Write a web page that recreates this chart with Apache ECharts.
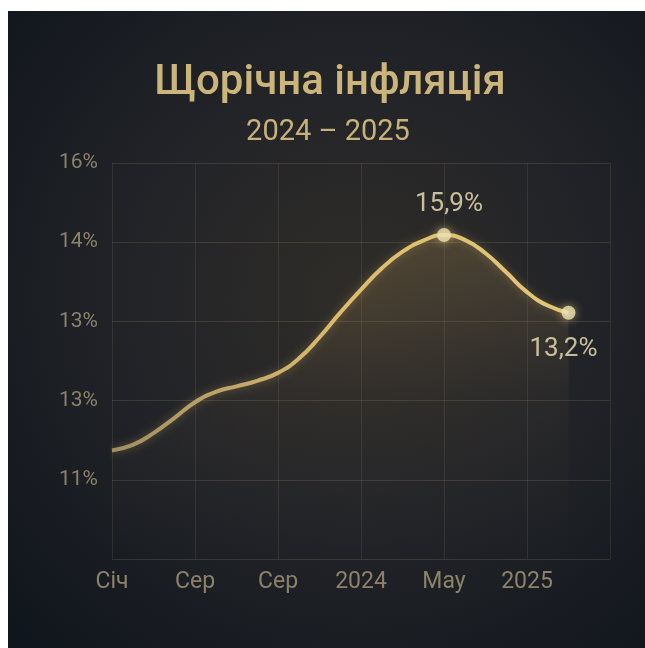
<!DOCTYPE html>
<html>
<head>
<meta charset="utf-8">
<script src="https://cdn.jsdelivr.net/npm/echarts@6/dist/echarts.min.js"></script>
<style>
  html, body { margin: 0; padding: 0; background: #ffffff; }
  #chart { position: absolute; left: 8px; top: 11px; width: 637px; height: 637px; }
</style>
</head>
<body>
<div id="chart"></div>
<script>
// Tick labels exactly as printed on the picture
const xTickLabels = ['Січ', 'Сер', 'Сер', '2024', 'May', '2025', ''];
const yTickLabels = ['', '11%', '13%', '13%', '14%', '16%'];

// Curve (x in month-tick units, y in gridline units)
const xPos = [0, 0.25, 0.5, 0.75, 1, 1.25, 1.5, 1.75, 2, 2.25, 2.5, 2.75, 3, 3.25, 3.5, 3.75, 4, 4.25, 4.5, 4.75, 5, 5.25, 5.5];
const yPos = [1.37, 1.44, 1.59, 1.78, 1.98, 2.11, 2.18, 2.25, 2.35, 2.53, 2.80, 3.11, 3.40, 3.67, 3.88, 4.02, 4.09, 4.03, 3.86, 3.62, 3.37, 3.20, 3.11];

// Highlighted points and their printed values
const markedIndex = [16, 22];
const markedValues = [15.9, 13.2];
const markedLabelPos = ['top', 'bottom'];

const lineData = xPos.map((x, i) => [x, yPos[i]]);
const markedData = markedIndex.map((idx, k) => ({
  value: lineData[idx],
  label: {
    position: markedLabelPos[k],
    distance: markedLabelPos[k] === 'top' ? 11 : 17,
    offset: markedLabelPos[k] === 'top' ? [5, 0] : [-5, 0],
    formatter: () => markedValues[k].toFixed(1).replace('.', ',') + '%'
  }
}));

const chart = echarts.init(document.getElementById('chart'), null, { renderer: 'canvas' });

const option = {
  backgroundColor: {
    type: 'radial', x: 0.55, y: 0.45, r: 0.75,
    colorStops: [
      { offset: 0, color: '#302d28' },
      { offset: 0.45, color: '#232428' },
      { offset: 1, color: '#10161d' }
    ]
  },
  title: [
    {
      text: 'Щорічна інфляція',
      left: 317, top: 46, textAlign: 'center',
      textStyle: { fontFamily: 'Roboto', fontWeight: 500, fontSize: 42, color: '#cbb57b' }
    },
    {
      text: '2024 – 2025',
      left: 315, top: 102, textAlign: 'center',
      textStyle: { fontFamily: 'Roboto', fontWeight: 400, fontSize: 29, color: '#c8b27c' }
    }
  ],
  grid: { left: 104, right: 35, top: 152, bottom: 89, containLabel: false },
  xAxis: {
    type: 'value', min: 0, max: 6, interval: 1,
    axisLine: { show: false }, axisTick: { show: false },
    splitLine: { show: true, lineStyle: { color: 'rgba(190,180,150,0.12)', width: 1 } },
    axisLabel: {
      margin: 12, fontFamily: 'Roboto', fontSize: 23, color: '#8c8268',
      formatter: v => xTickLabels[Math.round(v)] || ''
    }
  },
  yAxis: {
    type: 'value', min: 0, max: 5, interval: 1,
    axisLine: { show: false }, axisTick: { show: false },
    splitLine: { show: true, lineStyle: { color: 'rgba(200,180,130,0.16)', width: 1 } },
    axisLabel: {
      margin: 14, fontFamily: 'Roboto', fontSize: 21, color: '#8c8268',
      formatter: v => yTickLabels[Math.round(v)] || ''
    }
  },
  series: [
    {
      type: 'line',
      data: lineData,
      smooth: 0.5,
      showSymbol: false,
      lineStyle: {
        width: 4,
        color: {
          type: 'linear', x: 0, y: 0, x2: 1, y2: 0,
          colorStops: [
            { offset: 0, color: '#a08d62' },
            { offset: 0.5, color: '#dcbd6e' },
            { offset: 1, color: '#e2c676' }
          ]
        },
        shadowColor: 'rgba(230,190,100,0.35)', shadowBlur: 8
      },
      areaStyle: {
        color: {
          type: 'linear', x: 0, y: 0, x2: 0, y2: 1,
          colorStops: [
            { offset: 0, color: 'rgba(185,150,85,0.36)' },
            { offset: 0.5, color: 'rgba(160,130,80,0.08)' },
            { offset: 1, color: 'rgba(150,120,80,0)' }
          ]
        }
      },
      z: 2
    },
    {
      type: 'scatter',
      data: markedData,
      symbolSize: 14,
      itemStyle: { color: '#efe2b0', shadowColor: 'rgba(240,215,140,0.7)', shadowBlur: 10 },
      label: {
        show: true, fontFamily: 'Roboto', fontSize: 26, color: '#efe3b8'
      },
      z: 3
    }
  ]
};
chart.setOption(option);
</script>
</body>
</html>
